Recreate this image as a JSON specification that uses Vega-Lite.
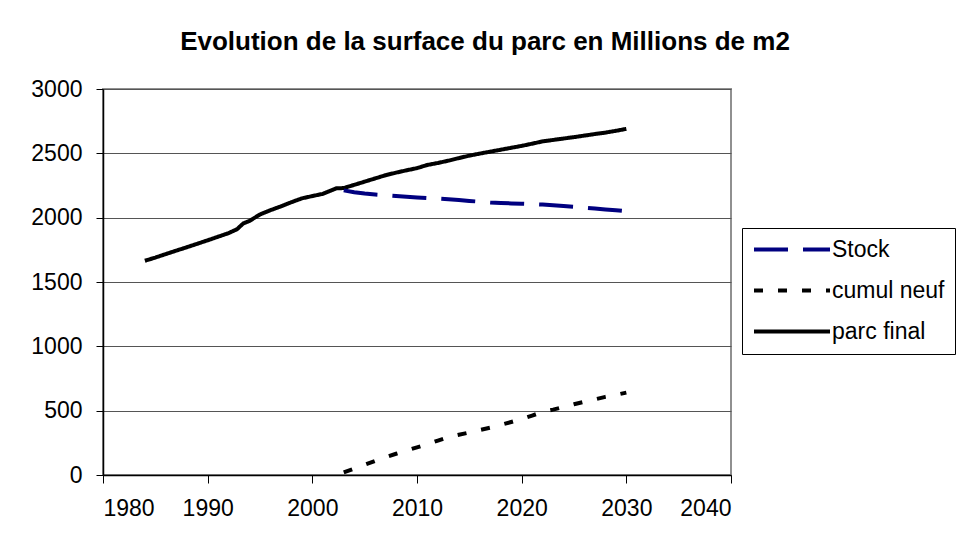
{
  "$schema": "https://vega.github.io/schema/vega-lite/v6.json",
  "autosize": "none",
  "width": 628,
  "height": 386,
  "padding": {"left": 103, "top": 89, "right": 229, "bottom": 58},
  "background": "#ffffff",
  "title": {
    "text": "Evolution de la surface du parc en Millions de m2",
    "font": "Liberation Sans",
    "fontSize": 26,
    "fontWeight": "bold",
    "color": "#000000",
    "anchor": "middle",
    "dx": 68,
    "offset": 23
  },
  "config": {
    "view": {"stroke": "#909090", "strokeWidth": 2},
    "axis": {
      "labelFont": "Liberation Sans",
      "labelFontSize": 23,
      "labelColor": "#000000",
      "domainColor": "#000000",
      "tickColor": "#000000",
      "gridColor": "#555555",
      "title": null
    }
  },
  "datasets": {
    "rows": [
      {"year": 1984, "series": "parc final", "value": 1665},
      {"year": 1985, "series": "parc final", "value": 1690},
      {"year": 1986, "series": "parc final", "value": 1717},
      {"year": 1987, "series": "parc final", "value": 1744},
      {"year": 1988, "series": "parc final", "value": 1770},
      {"year": 1989, "series": "parc final", "value": 1797},
      {"year": 1990, "series": "parc final", "value": 1824},
      {"year": 1991, "series": "parc final", "value": 1852},
      {"year": 1992, "series": "parc final", "value": 1880},
      {"year": 1992.8, "series": "parc final", "value": 1910},
      {"year": 1993.4, "series": "parc final", "value": 1955},
      {"year": 1994, "series": "parc final", "value": 1975},
      {"year": 1995, "series": "parc final", "value": 2025},
      {"year": 1996, "series": "parc final", "value": 2058},
      {"year": 1997, "series": "parc final", "value": 2088},
      {"year": 1998, "series": "parc final", "value": 2120},
      {"year": 1999, "series": "parc final", "value": 2150},
      {"year": 2000, "series": "parc final", "value": 2168},
      {"year": 2001, "series": "parc final", "value": 2185},
      {"year": 2002.3, "series": "parc final", "value": 2228},
      {"year": 2003, "series": "parc final", "value": 2230},
      {"year": 2004, "series": "parc final", "value": 2255},
      {"year": 2005, "series": "parc final", "value": 2280},
      {"year": 2006, "series": "parc final", "value": 2305},
      {"year": 2007, "series": "parc final", "value": 2330},
      {"year": 2008, "series": "parc final", "value": 2350},
      {"year": 2009, "series": "parc final", "value": 2368},
      {"year": 2010, "series": "parc final", "value": 2385},
      {"year": 2011, "series": "parc final", "value": 2410},
      {"year": 2012, "series": "parc final", "value": 2425},
      {"year": 2013, "series": "parc final", "value": 2443},
      {"year": 2014, "series": "parc final", "value": 2463},
      {"year": 2015, "series": "parc final", "value": 2482},
      {"year": 2016, "series": "parc final", "value": 2498},
      {"year": 2017, "series": "parc final", "value": 2513},
      {"year": 2018, "series": "parc final", "value": 2528},
      {"year": 2019, "series": "parc final", "value": 2543},
      {"year": 2020, "series": "parc final", "value": 2558},
      {"year": 2021, "series": "parc final", "value": 2575},
      {"year": 2022, "series": "parc final", "value": 2593},
      {"year": 2023, "series": "parc final", "value": 2604},
      {"year": 2024, "series": "parc final", "value": 2615},
      {"year": 2025, "series": "parc final", "value": 2626},
      {"year": 2026, "series": "parc final", "value": 2638},
      {"year": 2027, "series": "parc final", "value": 2650},
      {"year": 2028, "series": "parc final", "value": 2661},
      {"year": 2029, "series": "parc final", "value": 2675},
      {"year": 2030, "series": "parc final", "value": 2690},
      {"year": 2003, "series": "Stock", "value": 2212},
      {"year": 2004, "series": "Stock", "value": 2197},
      {"year": 2005, "series": "Stock", "value": 2187},
      {"year": 2006, "series": "Stock", "value": 2180},
      {"year": 2007, "series": "Stock", "value": 2174},
      {"year": 2008, "series": "Stock", "value": 2168},
      {"year": 2009, "series": "Stock", "value": 2162},
      {"year": 2010, "series": "Stock", "value": 2157},
      {"year": 2011, "series": "Stock", "value": 2152},
      {"year": 2012, "series": "Stock", "value": 2148},
      {"year": 2013, "series": "Stock", "value": 2143},
      {"year": 2014, "series": "Stock", "value": 2137},
      {"year": 2015, "series": "Stock", "value": 2130},
      {"year": 2016, "series": "Stock", "value": 2124},
      {"year": 2017, "series": "Stock", "value": 2118},
      {"year": 2018, "series": "Stock", "value": 2114},
      {"year": 2019, "series": "Stock", "value": 2111},
      {"year": 2020, "series": "Stock", "value": 2108},
      {"year": 2021, "series": "Stock", "value": 2105},
      {"year": 2022, "series": "Stock", "value": 2102},
      {"year": 2023, "series": "Stock", "value": 2096},
      {"year": 2024, "series": "Stock", "value": 2090},
      {"year": 2025, "series": "Stock", "value": 2084},
      {"year": 2026, "series": "Stock", "value": 2078},
      {"year": 2027, "series": "Stock", "value": 2071},
      {"year": 2028, "series": "Stock", "value": 2064},
      {"year": 2029, "series": "Stock", "value": 2057},
      {"year": 2030, "series": "Stock", "value": 2050},
      {"year": 2003, "series": "cumul neuf", "value": 20},
      {"year": 2004, "series": "cumul neuf", "value": 50},
      {"year": 2005, "series": "cumul neuf", "value": 80},
      {"year": 2006, "series": "cumul neuf", "value": 110},
      {"year": 2007, "series": "cumul neuf", "value": 138},
      {"year": 2008, "series": "cumul neuf", "value": 165},
      {"year": 2009, "series": "cumul neuf", "value": 190},
      {"year": 2010, "series": "cumul neuf", "value": 215},
      {"year": 2011, "series": "cumul neuf", "value": 240},
      {"year": 2012, "series": "cumul neuf", "value": 268},
      {"year": 2013, "series": "cumul neuf", "value": 295},
      {"year": 2014, "series": "cumul neuf", "value": 313},
      {"year": 2015, "series": "cumul neuf", "value": 330},
      {"year": 2016, "series": "cumul neuf", "value": 350},
      {"year": 2017, "series": "cumul neuf", "value": 368},
      {"year": 2018, "series": "cumul neuf", "value": 390},
      {"year": 2019, "series": "cumul neuf", "value": 412},
      {"year": 2020, "series": "cumul neuf", "value": 435},
      {"year": 2021, "series": "cumul neuf", "value": 462},
      {"year": 2022, "series": "cumul neuf", "value": 490},
      {"year": 2023, "series": "cumul neuf", "value": 508},
      {"year": 2024, "series": "cumul neuf", "value": 528},
      {"year": 2025, "series": "cumul neuf", "value": 550},
      {"year": 2026, "series": "cumul neuf", "value": 570},
      {"year": 2027, "series": "cumul neuf", "value": 588},
      {"year": 2028, "series": "cumul neuf", "value": 607},
      {"year": 2029, "series": "cumul neuf", "value": 623},
      {"year": 2030, "series": "cumul neuf", "value": 640}
    ]
  },
  "data": {"name": "rows"},
  "mark": {"type": "line", "strokeWidth": 4, "clip": true},
  "encoding": {
    "x": {
      "field": "year",
      "type": "quantitative",
      "scale": {"domain": [1980, 2040], "nice": false, "zero": false},
      "axis": {
        "values": [1980, 1990, 2000, 2010, 2020, 2030, 2040],
        "format": "d",
        "grid": false,
        "tickSize": 8,
        "labelPadding": 14,
        "domainWidth": 1.5
      }
    },
    "y": {
      "field": "value",
      "type": "quantitative",
      "scale": {"domain": [0, 3000], "nice": false},
      "axis": {
        "values": [0, 500, 1000, 1500, 2000, 2500, 3000],
        "format": "d",
        "grid": true,
        "tickSize": 7,
        "labelPadding": 14,
        "domainWidth": 1.5
      }
    },
    "color": {
      "field": "series",
      "type": "nominal",
      "scale": {"domain": ["Stock", "cumul neuf", "parc final"], "range": ["#000080", "#000000", "#000000"]},
      "legend": {
        "title": null,
        "orient": "none",
        "legendX": 639,
        "legendY": 139,
        "strokeColor": "#000000",
        "fillColor": "#ffffff",
        "padding": 10,
        "symbolType": "M-1,0H7",
        "symbolSize": 361,
        "symbolStrokeWidth": 4,
        "labelFont": "Liberation Sans",
        "labelFontSize": 23,
        "labelColor": "#000000",
        "labelOffset": 57,
        "labelExpr": "datum.label + '                    '",
        "labelLimit": 400,
        "rowPadding": 17
      }
    },
    "strokeDash": {
      "field": "series",
      "type": "nominal",
      "scale": {"domain": ["Stock", "cumul neuf", "parc final"], "range": [[34, 15], [9, 15], [1, 0]]},
      "legend": null
    }
  }
}
